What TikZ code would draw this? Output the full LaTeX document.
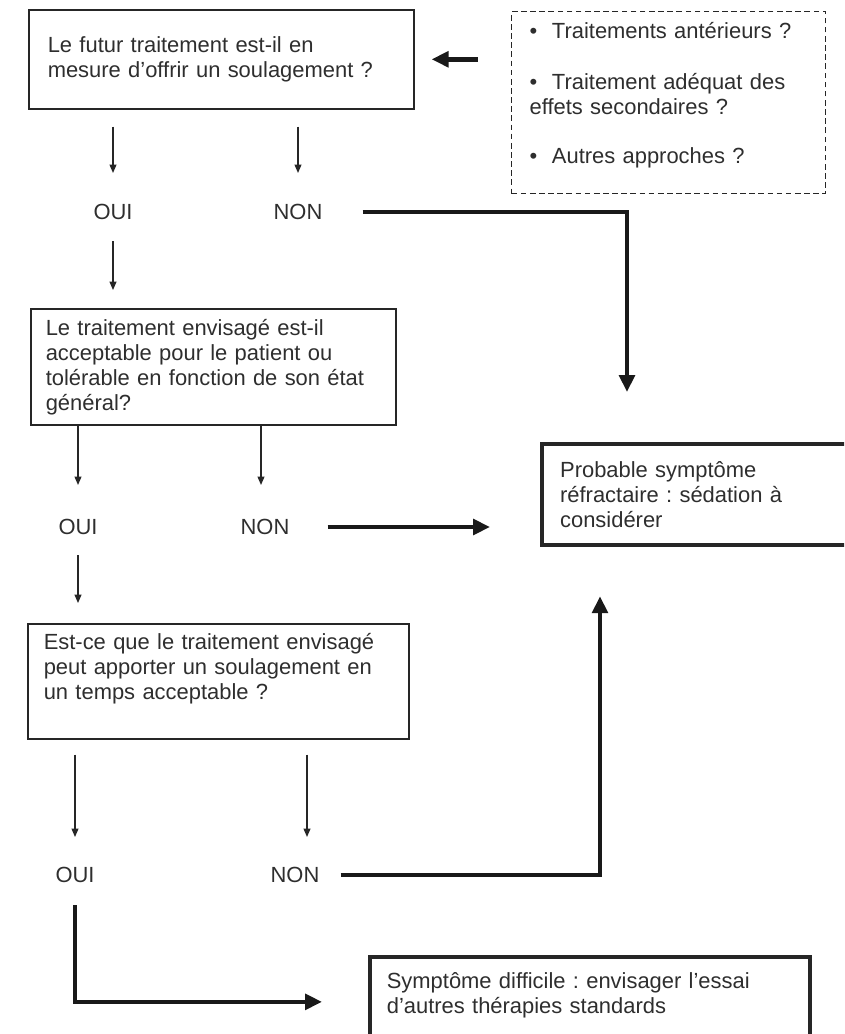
\documentclass[tikz,border=0pt]{standalone}
\usepackage{fontspec}
\setmainfont{Liberation Sans}
\usepackage{tikz}
\usetikzlibrary{arrows.meta}
\frenchspacing

\tikzset{
  texte/.style={font=\fontsize{15.6pt}{17.8pt}\selectfont, text=black!82},
  boite/.style={texte, draw=black!85, line width=1.1pt, align=left, anchor=north west},
  cadre/.style={boite, line width=3pt},
  pointille/.style={boite, dashed, dash pattern=on 4pt off 2.5pt, line width=0.9pt},
  choix/.style={texte, inner sep=0pt},
  fleche/.style={draw=black!85, line width=0.8pt, -{Triangle[length=6pt, width=5pt]}},
  gros/.style={draw=black!90, line width=3.2pt, -{Triangle[length=12pt, width=11pt]}}
}

\begin{document}
\begin{tikzpicture}[x=0.025cm, y=-0.025cm]
  \useasboundingbox (0, 0) rectangle (844, 1034);
  \clip (0, 0) rectangle (844, 1034);

  \node (q1) at (28, 9) [boite, minimum width=9.625cm, minimum height=2.475cm,
      text width=8.675cm, inner xsep=0.475cm]
      {Le futur traitement est-il en\\mesure d’offrir un soulagement ?};
  \node (ctx) at (511, 11) [pointille, minimum width=7.85cm, minimum height=4.55cm,
      text width=6.95cm, inner xsep=0.45cm, text depth=103pt]
      {\textbullet\ \ Traitements antérieurs ?\\[18.5pt]
       \textbullet\ \ Traitement adéquat des\\effets secondaires ?\\[17pt]
       \textbullet\ \ Autres approches ?};

  \node (oui1) at (113, 212) [choix] {OUI};
  \node (non1) at (298, 212) [choix] {NON};

  \node (q2) at (30, 308) [boite, minimum width=9.125cm, minimum height=2.9cm,
      text width=8.375cm, inner xsep=0.375cm]
      {Le traitement envisagé est-il\\acceptable pour le patient ou\\tolérable en fonction de son état\\général?};

  \node (res) at (540, 442) [cadre, minimum width=8cm, minimum height=2.525cm,
      text width=7.1cm, inner xsep=0.45cm]
      {Probable symptôme\\réfractaire : sédation à\\considérer};

  \node (oui2) at (78, 527) [choix] {OUI};
  \node (non2) at (265, 527) [choix] {NON};

  \node (q3) at (27, 623) [boite, minimum width=9.525cm, minimum height=2.875cm,
      text width=8.725cm, inner xsep=0.4cm, text depth=56.7pt]
      {Est-ce que le traitement envisagé\\peut apporter un soulagement en\\un temps acceptable ?};

  \node (oui3) at (75, 875) [choix] {OUI};
  \node (non3) at (295, 875) [choix] {NON};

  \node (sympt) at (368, 955) [cadre, line width=2.6pt, minimum width=11cm, minimum height=2.25cm,
      text width=10.15cm, inner xsep=0.425cm, text depth=31pt]
      {Symptôme difficile : envisager l’essai\\d’autres thérapies standards};

  \coordinate (c1) at (627, 0);
  \coordinate (c2) at (600, 0);

  \draw[gros, shorten <=0.825cm, shorten >=0.425cm] (q1.east -| ctx.west) -- (q1.east);

  \draw[fleche, shorten <=0.425cm, shorten >=0.775cm] (q1.south -| oui1) -- (oui1.north);
  \draw[fleche, shorten <=0.425cm, shorten >=0.775cm] (q1.south -| non1) -- (non1.north);
  \draw[fleche, shorten <=0.525cm, shorten >=0.45cm] (oui1.south) -- (oui1 |- q2.north);

  \draw[fleche, shorten >=0.85cm] (q2.south -| oui2) -- (oui2.north);
  \draw[fleche, shorten >=0.85cm] ([xshift=-0.1cm]q2.south -| non2) -- ([xshift=-0.1cm]non2.north);
  \draw[fleche, shorten <=0.5cm, shorten >=0.5cm] (oui2.south) -- (oui2 |- q3.north);

  \draw[fleche, shorten <=0.375cm, shorten >=0.75cm] (q3.south -| oui3) -- (oui3.north);
  \draw[fleche, shorten <=0.375cm, shorten >=0.75cm] ([xshift=0.3cm]q3.south -| non3) -- ([xshift=0.3cm]non3.north);

  \draw[gros, shorten <=1cm, shorten >=1.25cm] (non1.east) -| (res.north -| c1);
  \draw[gros, shorten <=0.95cm, shorten >=1.25cm] (non2.east) -- (non2.east -| res.west);
  \draw[gros, shorten <=0.525cm, shorten >=1.225cm] (non3.east) -| (res.south -| c2);
  \draw[gros, shorten <=0.55cm, shorten >=1.15cm] (oui3.south) |- (sympt.west);
\end{tikzpicture}
\end{document}
